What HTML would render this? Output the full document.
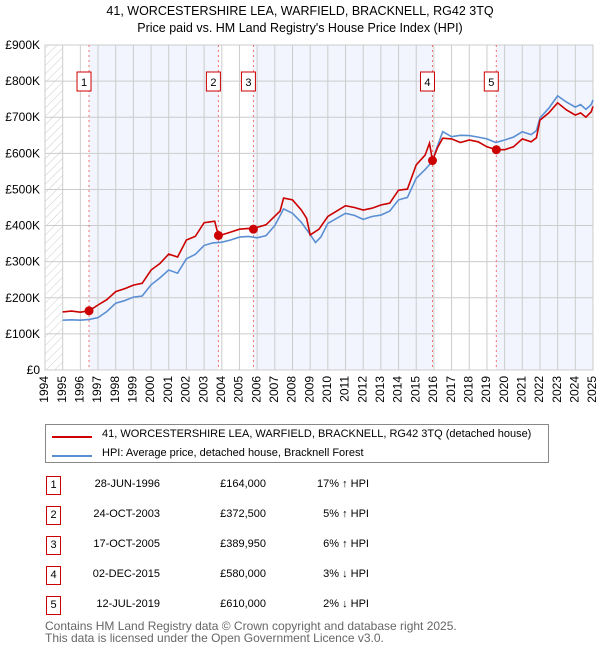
<!DOCTYPE html>
<html><head><meta charset="utf-8"><style>
body{margin:0;background:#fff;font-family:"Liberation Sans","DejaVu Sans",sans-serif;}
#wrap{position:relative;width:600px;height:650px;overflow:hidden;}
.t{position:absolute;font-size:12px;color:#000;white-space:nowrap;}
</style></head><body>
<div id="wrap">
<div class="t" style="left:0;width:600px;text-align:center;top:4px;font-size:12.5px">41, WORCESTERSHIRE LEA, WARFIELD, BRACKNELL, RG42 3TQ</div>
<div class="t" style="left:0;width:600px;text-align:center;top:21px;font-size:12.5px">Price paid vs. HM Land Registry's House Price Index (HPI)</div>
<svg id="svg" width="600" height="420" style="position:absolute;left:0;top:0">
<defs><pattern id="hatch" width="6" height="6" patternUnits="userSpaceOnUse" patternTransform="rotate(45)"><line x1="0" y1="0" x2="0" y2="6" stroke="#ccc" stroke-width="1"/></pattern></defs>
</svg>
<div style="position:absolute;left:45px;top:424px;width:502px;height:37px;border:1px solid #888;">
<div style="position:absolute;left:6px;top:11px;width:40px;height:2px;background:#cc0000"></div>
<div class="t" style="left:56px;top:3px;font-size:11px">41, WORCESTERSHIRE LEA, WARFIELD, BRACKNELL, RG42 3TQ (detached house)</div>
<div style="position:absolute;left:6px;top:30px;width:40px;height:2px;background:#5b8fd4"></div>
<div class="t" style="left:56px;top:22px;font-size:11px">HPI: Average price, detached house, Bracknell Forest</div>
</div>
<div id="rows"></div>
<div class="t" style="left:45px;top:619px;color:#666;font-size:12px">Contains HM Land Registry data © Crown copyright and database right 2025.</div>
<div class="t" style="left:45px;top:631px;color:#666;font-size:12px">This data is licensed under the Open Government Licence v3.0.</div>
</div>
<script>
const yearTicks=[1994,1995,1996,1997,1998,1999,2000,2001,2002,2003,2004,2005,2006,2007,2008,2009,2010,2011,2012,2013,2014,2015,2016,2017,2018,2019,2020,2021,2022,2023,2024,2025];
const valueTicks=[0,100,200,300,400,500,600,700,800,900];
const valueLabels=["£0","£100K","£200K","£300K","£400K","£500K","£600K","£700K","£800K","£900K"];
const redT=[1995,1995.5,1996,1996.49,1997,1997.5,1998,1998.5,1999,1999.5,2000,2000.5,2001,2001.5,2002,2002.5,2003,2003.3,2003.6,2003.81,2004,2004.5,2005,2005.5,2005.79,2006,2006.5,2007,2007.3,2007.5,2008,2008.5,2008.8,2009,2009.5,2010,2010.5,2011,2011.5,2012,2012.5,2013,2013.5,2014,2014.5,2015,2015.5,2015.75,2015.92,2016.2,2016.5,2017,2017.5,2018,2018.5,2019,2019.53,2020,2020.5,2021,2021.5,2021.8,2022,2022.5,2023,2023.5,2024,2024.3,2024.6,2024.9,2025];
const redV=[161,163,160,164,180,195,217,225,235,240,277,295,321,313,360,370,408,410,412,372,374,382,390,392,390,395,402,426,440,476,471,443,420,374,390,425,440,455,450,443,448,457,462,498,501,568,595,628,580,615,642,640,630,637,632,618,610,610,618,640,632,643,692,712,740,720,706,712,700,715,730];
const blueT=[1995,1995.5,1996,1996.5,1997,1997.5,1998,1998.5,1999,1999.5,2000,2000.5,2001,2001.5,2002,2002.5,2003,2003.5,2004,2004.5,2005,2005.5,2006,2006.5,2007,2007.5,2008,2008.5,2009,2009.3,2009.6,2010,2010.5,2011,2011.5,2012,2012.5,2013,2013.5,2014,2014.5,2015,2015.5,2015.9,2016.2,2016.5,2017,2017.5,2018,2018.5,2019,2019.5,2020,2020.5,2021,2021.5,2021.8,2022,2022.5,2023,2023.5,2024,2024.3,2024.6,2024.9,2025];
const blueV=[138,139,138,140,145,162,185,192,202,205,236,255,277,268,308,320,345,352,354,360,368,370,366,372,400,446,434,409,375,353,368,406,420,434,428,417,425,429,440,471,478,531,555,577,620,660,646,650,649,645,640,630,637,645,660,652,663,698,725,759,742,728,735,722,735,748];
const sales=[{n:"1",t:1996.49,v:164,d:"28-JUN-1996",p:"£164,000",h:"17% ↑ HPI"},{n:"2",t:2003.81,v:372.5,d:"24-OCT-2003",p:"£372,500",h:"5% ↑ HPI"},{n:"3",t:2005.79,v:389.95,d:"17-OCT-2005",p:"£389,950",h:"6% ↑ HPI"},{n:"4",t:2015.92,v:580,d:"02-DEC-2015",p:"£580,000",h:"3% ↓ HPI"},{n:"5",t:2019.53,v:610,d:"12-JUL-2019",p:"£610,000",h:"2% ↓ HPI"}];
const X0=45,X1=593,Y0=370,Y1=45;
const xs=t=>X0+(t-1994)/31*(X1-X0);
const ys=v=>Y0-v/900*(Y0-Y1);
const svg=document.getElementById('svg');const NS='http://www.w3.org/2000/svg';
function mk(tag,at,parent){const e=document.createElementNS(NS,tag);for(const k in at)e.setAttribute(k,at[k]);(parent||svg).appendChild(e);return e;}
const bandEdges=[[sales[0].t,sales[1].t],[sales[2].t,sales[3].t],[sales[4].t,2025]];
bandEdges.forEach(b=>{const r=mk('rect',{x:xs(b[0]),y:Y1,width:xs(b[1])-xs(b[0]),height:Y0-Y1,fill:'#f2f5fd'});

});
const hr=mk('rect',{x:X0,y:Y1,width:xs(1995)-X0,height:Y0-Y1,fill:'url(#hatch)'});


yearTicks.forEach(y=>{const l=mk('line',{x1:xs(y),x2:xs(y),y1:Y1,y2:Y0,stroke:'#ccc','stroke-width':1});


const tx=mk('text',{x:0,y:0,'font-size':12,'text-anchor':'end','dominant-baseline':'middle',transform:`translate(${xs(y)},${Y0+6}) rotate(-90)`,fill:'#000','font-family':'Liberation Sans, sans-serif'});tx.textContent=y;

});
valueTicks.forEach((v,i)=>{const l=mk('line',{x1:X0,x2:X1,y1:ys(v),y2:ys(v),stroke:'#ccc','stroke-width':1});


const tx=mk('text',{x:40,y:ys(v)+4,'font-size':12,'text-anchor':'end',fill:'#000','font-family':'Liberation Sans, sans-serif'});tx.textContent=valueLabels[i];

});
const fr=mk('rect',{x:X0,y:Y1,width:X1-X0,height:Y0-Y1,fill:'none',stroke:'#ccc'});


sales.forEach(s=>{const l=mk('line',{x1:xs(s.t),x2:xs(s.t),y1:Y1,y2:Y0,stroke:'#f07070','stroke-dasharray':'2,3'});


const bx=xs(s.t)-12;const r=mk('rect',{x:bx,y:72,width:14,height:19,fill:'#fff',stroke:'#cc0000'});


const tx=mk('text',{x:bx+7,y:86,'font-size':11,'text-anchor':'middle','font-family':'Liberation Sans, sans-serif'});tx.textContent=s.n;

});
function line(T,V,c,n){const p=mk('path',{d:T.map((t,i)=>(i?'L':'M')+xs(t).toFixed(1)+','+ys(V[i]).toFixed(1)).join(''),fill:'none',stroke:c,'stroke-width':1.6});

}
line(blueT,blueV,'#5b8fd4','hpi-line');
line(redT,redV,'#cc0000','price-paid-line');
sales.forEach(s=>{const c=mk('circle',{cx:xs(s.t),cy:ys(s.v),r:4.5,fill:'#cc0000'});

});
const rows=document.getElementById('rows');
sales.forEach((s,i)=>{const top=476+i*30;
const b=document.createElement('div');b.style.cssText=`position:absolute;left:46px;top:${top}px;width:13px;height:17px;border:1px solid #cc0000;font-size:11px;text-align:center;line-height:17px`;b.textContent=s.n;

rows.appendChild(b);
[[s.d,160,'table-date'],[s.p,266,'table-price'],[s.h,369,'table-hpi-diff']].forEach(c=>{const d=document.createElement('div');d.className='t';d.style.cssText=`right:${600-c[1]}px;top:${top+2}px;font-size:11px`;d.textContent=c[0];

rows.appendChild(d);});});
</script>
</body></html>
